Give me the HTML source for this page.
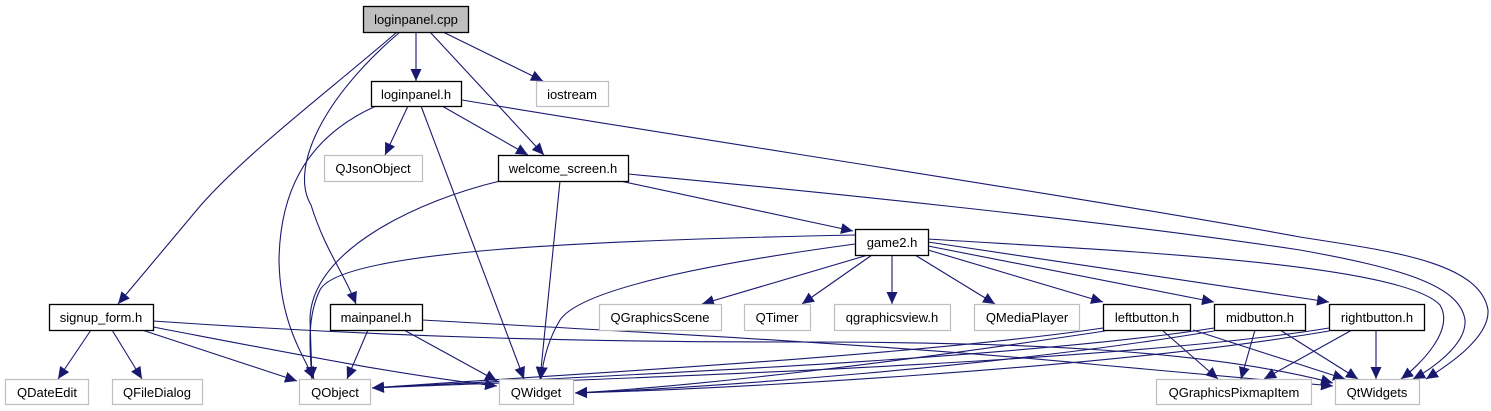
<!DOCTYPE html>
<html><head><meta charset="utf-8"><style>
html,body{margin:0;padding:0;background:#fff;}
svg{display:block;}
text{font-family:"Liberation Sans",Arial,sans-serif;font-size:13px;fill:#000;}
</style></head><body>
<svg width="1491" height="411" viewBox="0 0 1491 411" xmlns="http://www.w3.org/2000/svg">
<defs>
<marker id="a" markerUnits="userSpaceOnUse" markerWidth="13" markerHeight="11" refX="12" refY="5.5" orient="auto">
<path d="M0,0 L12,5.5 L0,11 Z" fill="#191970"/>
</marker>
</defs>
<g fill="none" stroke="#191970" stroke-width="1.1" marker-end="url(#a)">
<path d="M416,32 L416,81"/>
<path d="M443,32 L543,81"/>
<path d="M430,32 L544,155"/>
<path d="M397,32 C330,90 250,150 201,205 L118,304"/>
<path d="M400,32 C320,100 290,170 311,205 C325,250 345,275 356,304"/>
<path d="M376,106 C300,140 280,200 279,260 C280,320 300,350 314,379"/>
<path d="M408,106 L385,155"/>
<path d="M421,106 L524,379"/>
<path d="M442,106 L528,155"/>
<path d="M462,100 C700,140 1100,200 1300,237 C1380,250 1480,260 1488,310 C1490,340 1440,370 1426,379"/>
<path d="M500,181 C420,200 310,250 310,320 L312,379"/>
<path d="M560,181 L540,379"/>
<path d="M620,181 L853,231"/>
<path d="M628,174 C800,190 1100,220 1300,250 C1400,268 1460,285 1465,320 C1467,345 1430,370 1413,379"/>
<path d="M855,235 C600,240 340,250 320,290 C305,320 311,360 312,379"/>
<path d="M855,244 C700,265 580,290 560,320 C545,345 542,370 541,379"/>
<path d="M868,255 L702,304"/>
<path d="M872,255 L802,304"/>
<path d="M892,255 L892,304"/>
<path d="M915,255 L995,304"/>
<path d="M928,250 L1103,302"/>
<path d="M928,246 L1214,302"/>
<path d="M928,242 L1329,302"/>
<path d="M928,239 C1100,250 1400,262 1440,305 C1455,330 1420,365 1401,379"/>
<path d="M91,330 L58,379"/>
<path d="M112,330 L142,379"/>
<path d="M142,330 L297,381"/>
<path d="M153,327 C300,355 400,375 497,386"/>
<path d="M153,321 C400,338 600,342 800,342 C1000,342 1200,348 1333,383"/>
<path d="M368,330 L347,379"/>
<path d="M404,330 L497,381"/>
<path d="M422,320 C600,330 900,345 1100,365 L1333,386"/>
<path d="M1103,328 C900,358 500,378 372,388"/>
<path d="M1105,331 C900,362 700,386 575,393"/>
<path d="M1162,330 L1218,379"/>
<path d="M1193,330 L1345,379"/>
<path d="M1214,328 C1000,362 500,380 372,388"/>
<path d="M1214,331 C1000,367 700,388 575,393"/>
<path d="M1255,330 L1241,379"/>
<path d="M1280,330 L1358,379"/>
<path d="M1329,328 C1100,366 500,382 372,388"/>
<path d="M1329,331 C1100,370 700,390 575,393"/>
<path d="M1352,330 L1264,379"/>
<path d="M1376,330 L1376,379"/>
</g>
<g stroke-width="1.3">
<rect x="363.5" y="6.5" width="105" height="26" fill="#bfbfbf" stroke="#000"/>
<rect x="371.5" y="81.5" width="90" height="25" fill="#fff" stroke="#000"/>
<rect x="498.5" y="155.5" width="130" height="26" fill="#fff" stroke="#000"/>
<rect x="855.5" y="229.5" width="73" height="26" fill="#fff" stroke="#000"/>
<rect x="49.5" y="304.5" width="104" height="26" fill="#fff" stroke="#000"/>
<rect x="330.5" y="304.5" width="92" height="26" fill="#fff" stroke="#000"/>
<rect x="1103.5" y="304.5" width="87" height="26" fill="#fff" stroke="#000"/>
<rect x="1214.5" y="304.5" width="91" height="26" fill="#fff" stroke="#000"/>
<rect x="1329.5" y="304.5" width="95" height="26" fill="#fff" stroke="#000"/>
</g>
<g fill="#fff" stroke="#bfbfbf" stroke-width="1.2">
<rect x="536.5" y="81.5" width="72" height="25"/>
<rect x="324.5" y="155.5" width="98" height="26"/>
<rect x="599.5" y="304.5" width="122" height="26"/>
<rect x="744.5" y="304.5" width="66" height="26"/>
<rect x="834.5" y="304.5" width="116" height="26"/>
<rect x="974.5" y="304.5" width="105" height="26"/>
<rect x="5.5" y="379.5" width="83" height="25"/>
<rect x="112.5" y="379.5" width="90" height="25"/>
<rect x="299.5" y="379.5" width="71" height="25"/>
<rect x="499.5" y="379.5" width="74" height="25"/>
<rect x="1156.5" y="379.5" width="155" height="25"/>
<rect x="1335.5" y="379.5" width="84" height="25"/>
</g>
<g text-anchor="middle">
<text x="416" y="24">loginpanel.cpp</text>
<text x="416" y="99">loginpanel.h</text>
<text x="572" y="99">iostream</text>
<text x="373" y="173">QJsonObject</text>
<text x="563" y="173">welcome_screen.h</text>
<text x="892" y="247">game2.h</text>
<text x="101" y="322">signup_form.h</text>
<text x="376" y="322">mainpanel.h</text>
<text x="660" y="322">QGraphicsScene</text>
<text x="777" y="322">QTimer</text>
<text x="892" y="322">qgraphicsview.h</text>
<text x="1027" y="322">QMediaPlayer</text>
<text x="1147" y="322">leftbutton.h</text>
<text x="1260" y="322">midbutton.h</text>
<text x="1377" y="322">rightbutton.h</text>
<text x="47" y="397">QDateEdit</text>
<text x="157" y="397">QFileDialog</text>
<text x="335" y="397">QObject</text>
<text x="536" y="397">QWidget</text>
<text x="1234" y="397">QGraphicsPixmapItem</text>
<text x="1377" y="397">QtWidgets</text>
</g>
</svg>
</body></html>
